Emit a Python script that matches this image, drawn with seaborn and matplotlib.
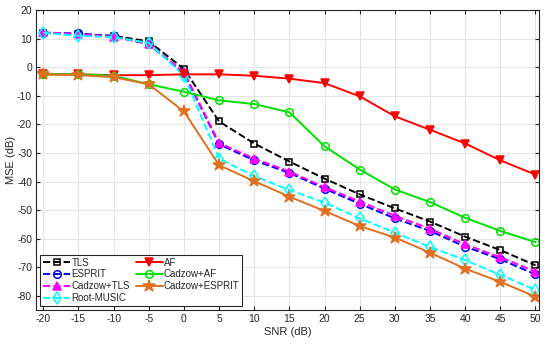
import numpy as np
import pandas as pd
import matplotlib
matplotlib.use("Agg")
import matplotlib.pyplot as plt
import seaborn as sns

# ------------------ DATA ------------------
snr = [-20, -15, -10, -5, 0, 5, 10, 15, 20, 25, 30, 35, 40, 45, 50]

tls = [12, 11.5, 11, 9, -0.6, -19, -26.7, -33, -39, -44.5, -49.4, -54, -59.3, -64, -69.3]
esprit = [12, 11.8, 10.8, 8, -2, -27, -32.6, -37, -42.5, -47.8, -52.9, -57.3, -62.8, -67.2, -72.5]
cadzow_tls = [12.2, 11.6, 10.6, 8.2, -1.8, -26.5, -32, -36.5, -42, -47, -52, -56.5, -62, -66.5, -71.5]
root_music = [12, 11, 10.5, 8.5, -3, -32, -38.1, -43, -47.4, -52.9, -57.9, -62.9, -67.5, -72.7, -77.9]
af = [-2.5, -2.5, -2.8, -2.8, -2.5, -2.5, -3, -4, -5.6, -10.2, -17.2, -21.9, -26.7, -32.6, -37.6]
cadzow_af = [-2.5, -2.5, -3, -6, -8.6, -11.6, -12.9, -15.8, -27.7, -35.8, -42.8, -47.2, -52.7, -57.3, -61.2]
cadzow_esprit = [-2.5, -2.8, -3.5, -6, -15.5, -34.3, -39.9, -45.3, -50.3, -55.6, -59.6, -64.9, -70.5, -75.1, -80.3]

series = {
    "TLS": tls,
    "ESPRIT": esprit,
    "Cadzow+TLS": cadzow_tls,
    "Root-MUSIC": root_music,
    "AF": af,
    "Cadzow+AF": cadzow_af,
    "Cadzow+ESPRIT": cadzow_esprit,
}

# ------------------ STYLE ------------------
styles = {
    "TLS": dict(color="black", ls="--", marker="s", mfc="none", ms=5),
    "ESPRIT": dict(color="blue", ls="--", marker="o", mfc="none", ms=5.5),
    "Cadzow+TLS": dict(color="magenta", ls="--", marker="^", mfc="magenta", ms=6),
    "Root-MUSIC": dict(color="cyan", ls="--", marker="d", mfc="none", ms=6),
    "AF": dict(color="red", ls="-", marker="v", mfc="red", ms=6),
    "Cadzow+AF": dict(color="#00e000", ls="-", marker="o", mfc="none", ms=5.5),
    "Cadzow+ESPRIT": dict(color="#e07020", ls="-", marker="*", mfc="#e07020", ms=9),
}

sns.set_style("ticks")
plt.rcParams["font.family"] = ["Liberation Sans", "DejaVu Sans"]
plt.rcParams["axes.unicode_minus"] = False

fig, ax = plt.subplots(figsize=(5.5, 3.45), dpi=100)
fig.subplots_adjust(left=0.066, right=0.98, top=0.971, bottom=0.101)

for name, vals in series.items():
    st = styles[name]
    sns.lineplot(x=snr, y=vals, ax=ax, color=st["color"], linestyle=st["ls"],
                 marker=st["marker"], markerfacecolor=st["mfc"],
                 markeredgecolor=st["color"], markersize=st["ms"],
                 markeredgewidth=1.1, linewidth=1.4, label=name)

ax.set_xlim(-21, 50.5)
ax.set_ylim(-85, 20)
ax.set_xticks(np.arange(-20, 51, 5))
ax.set_yticks(np.arange(-80, 21, 10))
ax.grid(True, color="#e6e6e6", linewidth=0.8)
ax.set_axisbelow(True)
ax.tick_params(direction="in", top=True, right=True, labelsize=7.5, colors="#262626",
               length=3, pad=3)
for sp in ax.spines.values():
    sp.set_color("#262626")
    sp.set_linewidth(0.8)
ax.set_xlabel("SNR (dB)", fontsize=8, labelpad=2)
ax.set_ylabel("MSE (dB)", fontsize=8, labelpad=1)

leg = ax.legend(loc="lower left", ncol=2, fontsize=7, frameon=True, fancybox=False,
                borderpad=0.3, labelspacing=0.2, handlelength=2.8, handletextpad=0.1,
                columnspacing=0.6, borderaxespad=0.4)
leg.get_frame().set_edgecolor("#262626")
leg.get_frame().set_linewidth(0.8)
leg.get_frame().set_alpha(1)

fig.savefig("out.png", dpi=100)
